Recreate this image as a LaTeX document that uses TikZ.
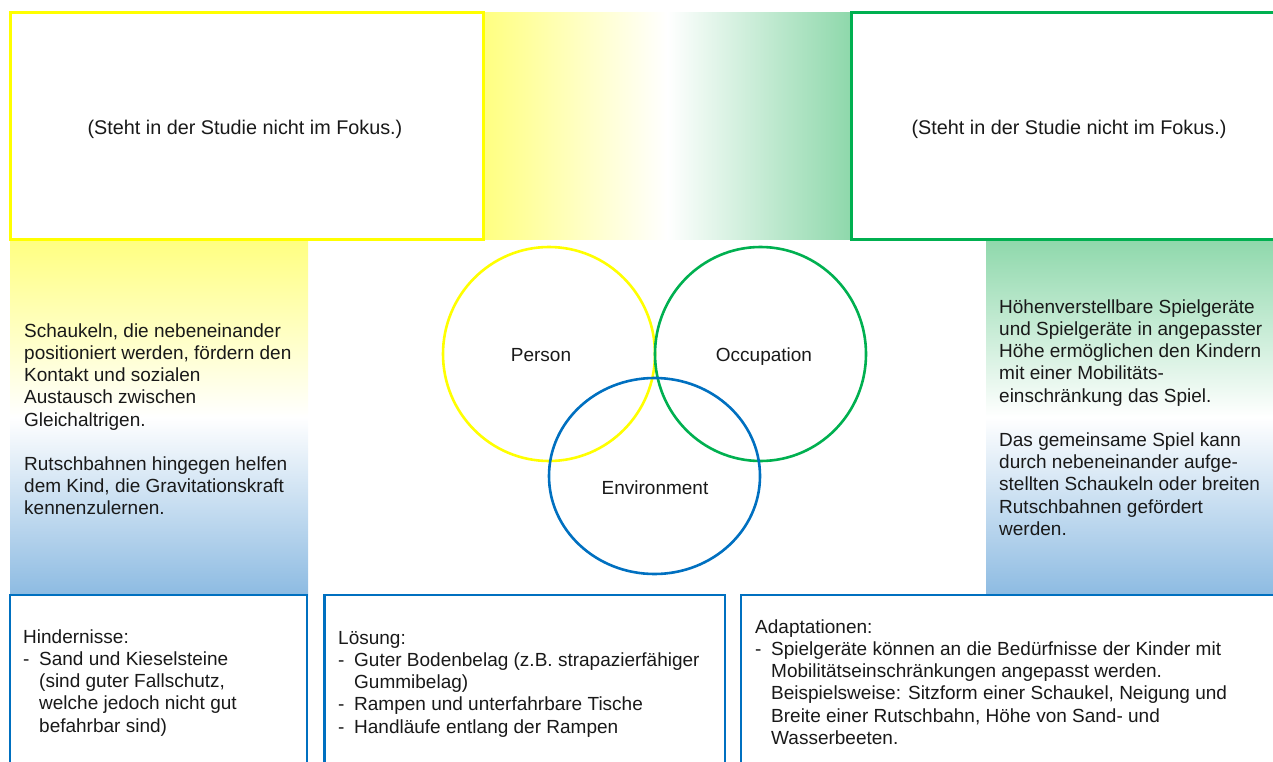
\documentclass[tikz,border=0pt]{standalone}
\usepackage{fontspec}
\setmainfont{Liberation Sans}
\definecolor{cyel}{HTML}{FFFF00}
\definecolor{cgrn}{HTML}{00B050}
\definecolor{cblu}{HTML}{0070C0}
\definecolor{lyel}{HTML}{FFFF80}
\definecolor{lgrn}{HTML}{8ED8AB}
\definecolor{lblu}{HTML}{8DBBE2}
\newcommand{\firstln}{\rule{0pt}{15pt}}
\newcommand{\dashitem}{\makebox[16pt][l]{-}}
\newcommand{\indentln}{\hspace*{16pt}}
\tikzset{
  txt/.style={anchor=north west, inner sep=0pt, align=left, font=\fontsize{19}{22.2}\selectfont, text=black!90},
  lbl/.style={anchor=base, inner sep=0pt, font=\fontsize{19}{22.2}\selectfont, text=black!90},
  toplbl/.style={lbl, font=\fontsize{19.8}{22.2}\selectfont},
  ybox/.style={draw=cyel, line width=3pt, fill=white},
  gbox/.style={draw=cgrn, line width=3pt, fill=white},
  bbox/.style={draw=cblu, line width=2.5pt, fill=white},
  ring/.style={line width=2.6pt}
}
\begin{document}
\begin{tikzpicture}[x=1pt,y=-1pt]
\useasboundingbox (0,0) rectangle (1273,762);
% gradients
\shade[left color=lyel, right color=lgrn, middle color=white] (483,13) rectangle (851,239);
\shade[top color=lyel, bottom color=lblu, middle color=white] (10,239) rectangle (308,595);
\shade[top color=lgrn, bottom color=lblu, middle color=white] (986,239) rectangle (1280,595);
% top boxes
\path[ybox] (10,13) rectangle (483,239);
\path[gbox] (851,13) rectangle (1290,239);
\node[toplbl] (tl) at (245,135) {(Steht in der Studie nicht im Fokus.)};
\node[toplbl] (tr) at (1069,135) {(Steht in der Studie nicht im Fokus.)};
% bottom boxes
\path[bbox] (10,595) rectangle (307,780);
\path[bbox] (324.5,595) rectangle (725,780);
\path[bbox] (741,595) rectangle (1290,780);
% circles
\draw[ring, draw=cyel] (549,354) ellipse [x radius=106pt, y radius=107pt];
\draw[ring, draw=cgrn] (760.5,354) ellipse [x radius=105.5pt, y radius=107pt];
\draw[ring, draw=cblu] (654.5,476) ellipse [x radius=105.5pt, y radius=98pt];
\node[lbl] (person) at (541,361) {Person};
\node[lbl] (occ) at (764,361) {Occupation};
\node[lbl] (env) at (655,494) {Environment};
% column texts
\node[txt] (lefttext) at (24,322) {\firstln Schaukeln, die nebeneinander\\
positioniert werden, fördern den\\
Kontakt und sozialen\\
Austausch zwischen\\
Gleichaltrigen.\\[22.2pt]
Rutschbahnen hingegen helfen\\
dem Kind, die Gravitationskraft\\
kennenzulernen.};
\node[txt] (righttext) at (999,298) {\firstln Höhenverstellbare Spielgeräte\\
und Spielgeräte in angepasster\\
Höhe ermöglichen den Kindern\\
mit einer Mobilitäts-\\
einschränkung das Spiel.\\[22.2pt]
Das gemeinsame Spiel kann\\
durch nebeneinander aufge-\\
stellten Schaukeln oder breiten\\
Rutschbahnen gefördert\\
werden.};
% bottom texts
\node[txt] (hind) at (23,628) {\firstln Hindernisse:\\
\dashitem Sand und Kieselsteine\\
\indentln(sind guter Fallschutz,\\
\indentln welche jedoch nicht gut\\
\indentln befahrbar sind)};
\node[txt] (loes) at (338,629) {\firstln Lösung:\\
\dashitem Guter Bodenbelag (z.B. strapazierfähiger\\
\indentln Gummibelag)\\
\dashitem Rampen und unterfahrbare Tische\\
\dashitem Handläufe entlang der Rampen};
\node[txt] (adapt) at (755,618) {\firstln Adaptationen:\\
\dashitem Spielgeräte können an die Bedürfnisse der Kinder mit\\
\indentln Mobilitätseinschränkungen angepasst werden.\\
\indentln Beispielsweise: Sitzform einer Schaukel, Neigung und\\
\indentln Breite einer Rutschbahn, Höhe von Sand- und\\
\indentln Wasserbeeten.};
\end{tikzpicture}
\end{document}
